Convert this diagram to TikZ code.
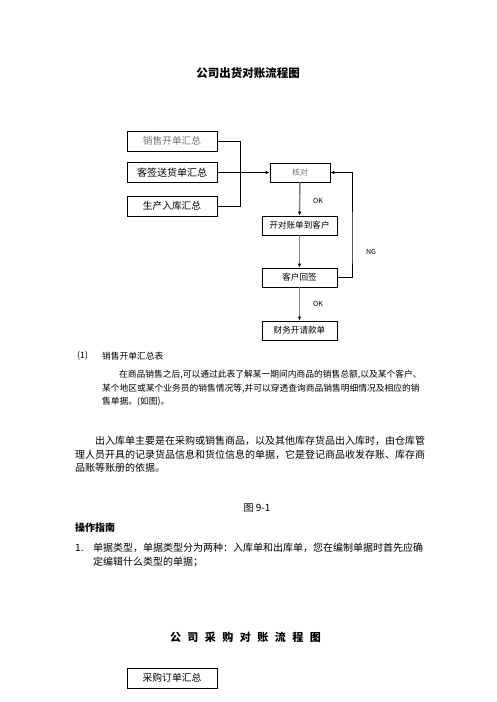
\documentclass[tikz,border=0pt]{standalone}
\usepackage{fontspec}
\setmainfont{Noto Sans CJK SC}
\usetikzlibrary{arrows.meta}

\begin{document}
\begin{tikzpicture}[x=1pt,y=-1pt,
    box/.style={draw,line width=0.8pt,minimum width=90pt,minimum height=20pt,inner sep=0pt},
    smallbox/.style={draw,line width=0.8pt,minimum width=75pt,minimum height=19pt,inner sep=0pt,font=\fontsize{8.6}{9}\selectfont},
    tip/.style={-{Latex[length=4pt,width=3.5pt,color=black]}},
    flow/.style={tip,line width=1.4pt,draw=black!50},
    tag/.style={font=\fontsize{7}{8}\selectfont},
    txt/.style={anchor=west,inner sep=0pt},
    body/.style={txt,font=\fontsize{10}{12}\selectfont},
    note/.style={txt,font=\fontsize{8.75}{10}\selectfont}]
  \useasboundingbox (0,0) rectangle (496,702);
  % heading
  \node[font=\bfseries\fontsize{11.5}{12}\selectfont] (title) at (248,73) {公司出货对账流程图};
  % sources
  \node[box,font=\fontsize{9.7}{10}\selectfont,text=black!55] (sale) at (172,141) {销售开单汇总};
  \node[box,font=\fontsize{10}{10}\selectfont] (deliv) at (172,172.5) {客签送货单汇总};
  \node[box,font=\fontsize{9.7}{10}\selectfont] (prod) at (172,206) {生产入库汇总};
  \coordinate (join) at (240,172.5);
  \draw[line width=0.8pt] (sale.east) -| (join);
  \draw[line width=0.8pt] (prod.east) -| (join);
  % main flow
  \node[draw,line width=0.8pt,minimum width=60pt,minimum height=19pt,inner sep=0pt,
        font=\fontsize{8}{9}\selectfont,text=black!55] (check) at (300,172.5) {核对};
  \draw[tip,line width=0.8pt] (deliv.east) -- (check.west);
  \node[smallbox] (stmt) at (299.5,225.5) {开对账单到客户};
  \node[smallbox] (sign) at (299.5,277.5) {客户回签};
  \node[smallbox] (pay) at (299.5,330.5) {财务开请款单};
  \draw[flow] (check) -- (stmt);
  \draw[flow] (stmt) -- (sign);
  \draw[flow] (sign) -- (pay);
  \node[tag] (ok1) at (318,201) {OK};
  \node[tag] (ok2) at (318,304) {OK};
  \node[tag] (ng) at (371,252) {NG};
  \coordinate (back) at (352,250);
  \draw[tip,line width=0.8pt] (sign.east) -| (back) |- (check.east);
  % notes
  \node[note] (n0) at (77,356) {(1)};
  \node[note] (n1) at (102,356) {销售开单汇总表};
  \node[note] (n2) at (119,375) {在商品销售之后,可以通过此表了解某一期间内商品的销售总额,以及某个客户、};
  \node[note] (n3) at (102,388.5) {某个地区或某个业务员的销售情况等,并可以穿透查询商品销售明细情况及相应的销};
  \node[note] (n4) at (102,402) {售单据。(如图)。};
  \node[body] (p1) at (95,441) {出入库单主要是在采购或销售商品，以及其他库存货品出入库时，由仓库管};
  \node[body] (p2) at (75,454.5) {理人员开具的记录货品信息和货位信息的单据，它是登记商品收发存账、库存商};
  \node[body] (p3) at (75,468) {品账等账册的依据。};
  \node[font=\fontsize{10}{12}\selectfont] (fig) at (257,508) {图 9-1};
  \node[body,font=\bfseries\fontsize{10}{12}\selectfont] (guide) at (75,528) {操作指南};
  \node[body] (i1) at (75,548) {1.};
  \node[body] (i2) at (93,548) {单据类型，单据类型分为两种：入库单和出库单，您在编制单据时首先应确};
  \node[body] (i3) at (93,562) {定编辑什么类型的单据；};
  % second chart
  \node[font=\bfseries\fontsize{11}{12}\selectfont] (title2) at (245.5,637) {\spaceskip=6.5pt\relax 公 司 采 购 对 账 流 程 图};
  \node[box,font=\fontsize{9.8}{10}\selectfont] (order) at (172,678) {采购订单汇总};
\end{tikzpicture}
\end{document}
